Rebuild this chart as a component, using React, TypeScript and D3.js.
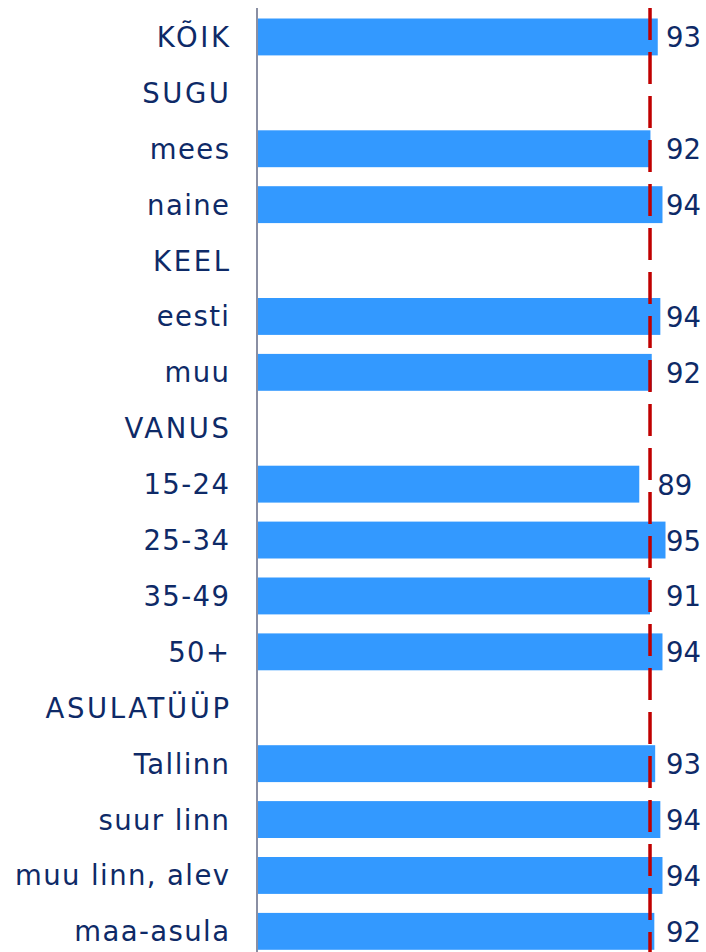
import React from "react";
import * as d3 from "d3";

const categories = ["KÕIK", "SUGU", "mees", "naine", "KEEL", "eesti", "muu", "VANUS", "15-24", "25-34", "35-49", "50+", "ASULATÜÜP", "Tallinn", "suur linn", "muu linn, alev", "maa-asula"];
const barValues: (number | null)[] = [93.2, null, 91.5, 94.3, null, 93.8, 91.8, null, 88.9, 95.0, 91.4, 94.3, null, 92.6, 93.8, 94.3, 92.4];
const valueLabels: (string | null)[] = ["93", null, "92", "94", null, "94", "92", null, "89", "95", "91", "94", null, "93", "94", "94", "92"];
const referenceValue = 91.4;
const xDomain = [0, 100];

const W = 706;
const H = 952;
const axisX = 257;
const plotRight = 700;
const textColor = "#0E2A67";
const barColor = "#3399FF";

export default function App() {
  const x = d3.scaleLinear().domain(xDomain).range([axisX, axisX + 430]);
  const y = d3.scaleBand<string>().domain(categories).range([9, 9 + 55.9 * categories.length]).paddingInner(0.34).paddingOuter(0.17);
  const bw = y.bandwidth();
  const font = "'DejaVu Sans', Verdana, sans-serif";
  const labelW = 34;
  return (
    <svg width={W} height={H} style={{ position: "absolute", left: 0, top: 0, background: "#fff" }} fontFamily={font}>
      {categories.map((c, i) => {
        const yc = (y(c) as number) + bw / 2;
        const isHeader = barValues[i] == null || c === c.toUpperCase() && /[A-ZÕÜ]/.test(c);
        const ls = isHeader ? 2.6 : 1.4;
        return (
          <text key={"c" + i} x={229 + ls} y={yc + 10} textAnchor="end" fontSize={27.5} letterSpacing={ls} fill={textColor}>
            {c}
          </text>
        );
      })}
      {categories.map((c, i) => {
        const v = barValues[i];
        if (v == null) return null;
        const y0 = y(c) as number;
        return <rect key={"b" + i} x={x(0)} y={y0} width={x(v) - x(0)} height={bw} fill={barColor} />;
      })}
      <line x1={axisX} x2={axisX} y1={8} y2={H} stroke="#8A8FA3" strokeWidth={2} />
      <line x1={x(referenceValue)} x2={x(referenceValue)} y1={8} y2={H} stroke="#C00000" strokeWidth={3.5} strokeDasharray="32 12" />
      {categories.map((c, i) => {
        const v = barValues[i];
        const lab = valueLabels[i];
        if (v == null || lab == null) return null;
        const yc = (y(c) as number) + bw / 2;
        const lx = Math.min(x(v) + 18, plotRight - labelW);
        return (
          <text key={"v" + i} x={lx} y={yc + 10.5} textAnchor="start" fontSize={27.5} fill={textColor}>
            {lab}
          </text>
        );
      })}
    </svg>
  );
}
